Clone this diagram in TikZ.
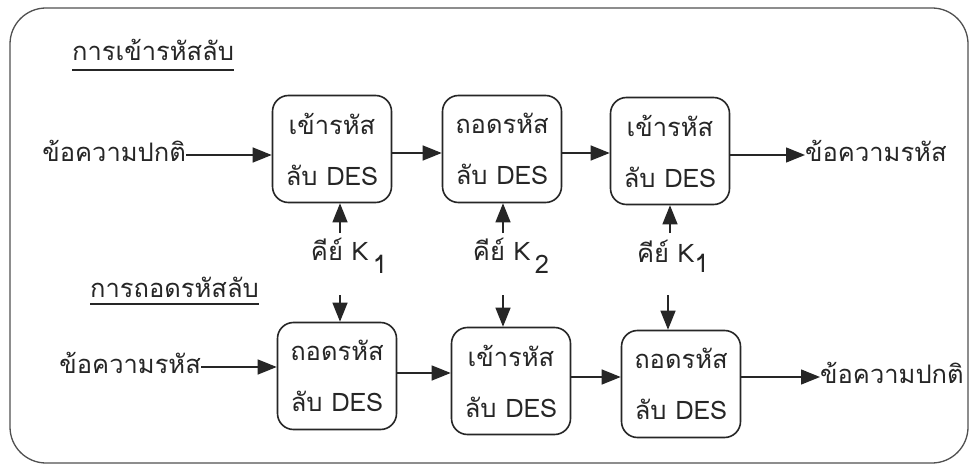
\documentclass[tikz,border=0pt]{standalone}
\usepackage{fontspec}
\usetikzlibrary{arrows.meta}
\newfontfamily\thaifont[Script=Thai]{Loma}
\definecolor{ink}{HTML}{262626}
\definecolor{framegray}{HTML}{505050}
\begin{document}
\begin{tikzpicture}[x=1pt,y=-1pt,
  every node/.style={text=ink},
  txt/.style={font=\thaifont\fontsize{25.5}{26}\selectfont, inner sep=0pt},
  desbox/.style={draw=ink, line width=1.6pt, rounded corners=16pt,
    minimum width=119pt, minimum height=107pt, align=center,
    font=\thaifont\fontsize{25.5}{51}\selectfont, inner sep=0pt},
  arr/.style={draw=ink, line width=1.3pt,
    -{Triangle[length=19pt,width=15pt]}},
  uline/.style={draw=ink, line width=1.1pt}]
\useasboundingbox (0,0) rectangle (971,465);
\fill[white] (0,0) rectangle (971,465);
% outer frame
\draw[framegray, line width=1.3pt, rounded corners=36pt] (10,8) rectangle (968,463);

% headings
\node[txt, anchor=west] (t1) at (72,50) {การเข้ารหัสลับ};
\draw[uline] (72,70) -- (t1.east |- 0,70);
\node[txt, anchor=west] (t2) at (90,287) {การถอดรหัสลับ};
\draw[uline] (90,304) -- (t2.east |- 0,304);

% encryption row
\node[desbox] (b1) at (332,149) {เข้ารหัส\\ลับ DES};
\node[desbox] (b2) at (502,149) {ถอดรหัส\\ลับ DES};
\node[desbox] (b3) at (670,151) {เข้ารหัส\\ลับ DES};
\node[txt, anchor=east] (in1) at (186,151) {ข้อความปกติ};
\node[txt, anchor=west] (out1) at (805,151) {ข้อความรหัส};

% decryption row
\node[desbox] (b4) at (337,376) {ถอดรหัส\\ลับ DES};
\node[desbox] (b5) at (511,381) {เข้ารหัส\\ลับ DES};
\node[desbox] (b6) at (681,384) {ถอดรหัส\\ลับ DES};
\node[txt, anchor=east] (in2) at (201,363) {ข้อความรหัส};
\node[txt, anchor=west] (out2) at (820,373) {ข้อความปกติ};

% key labels
\node[txt] (k1) at (349,256) {คีย์ K\,\raisebox{-0.5em}{1}};
\node[txt] (k2) at (511,256) {คีย์ K\,\raisebox{-0.5em}{2}};
\node[txt] (k3) at (673,256) {คีย์ K\raisebox{-0.4em}{1}};
\coordinate (k1u) at (340,233);
\coordinate (k2u) at (503,233);
\coordinate (k3u) at (670,233);
\coordinate (k1d) at (340,295);
\coordinate (k2d) at (503,295);
\coordinate (k3d) at (668,295);

% data flow, encryption
\draw[arr] (in1.east |- 0,155) -- (b1.west |- 0,155);
\draw[arr] (b1.east |- 0,153) -- (b2.west |- 0,153);
\draw[arr] (b2.east |- 0,153) -- (b3.west |- 0,153);
\draw[arr] (b3.east |- 0,155) -- (out1.west |- 0,155);

% data flow, decryption
\draw[arr] (in2.east |- 0,367) -- (b4.west |- 0,367);
\draw[arr] (b4.east |- 0,373) -- (b5.west |- 0,373);
\draw[arr] (b5.east |- 0,377) -- (b6.west |- 0,377);
\draw[arr] (b6.east |- 0,377) -- (out2.west |- 0,377);

% keys into the boxes
\draw[arr] (k1u) -- (k1u |- b1.south);
\draw[arr] (k2u) -- (k2u |- b2.south);
\draw[arr] (k3u) -- (k3u |- b3.south);
\draw[arr] (k1d) -- (k1d |- b4.north);
\draw[arr] (k2d) -- (k2d |- b5.north);
\draw[arr] (k3d) -- (k3d |- b6.north);
\end{tikzpicture}
\end{document}
